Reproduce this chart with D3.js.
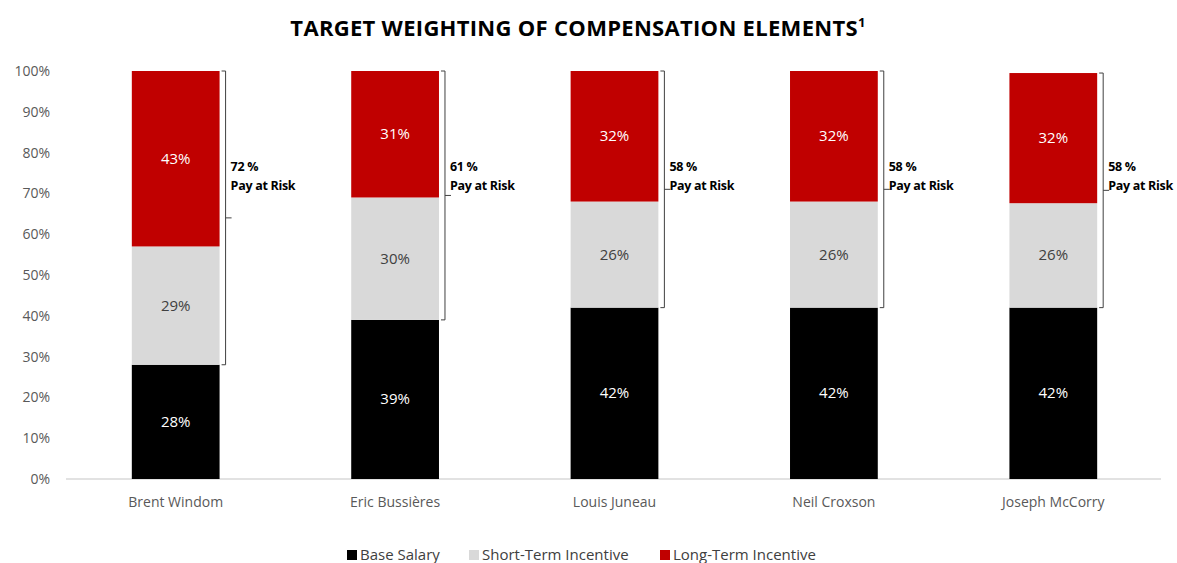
<!DOCTYPE html>
<html>
<head>
<meta charset="utf-8">
<script src="https://cdn.jsdelivr.net/npm/d3@7"></script>
<style>
  body { margin: 0; background: #fff; }
  text { font-family: "Open Sans", "Noto Sans", sans-serif; }
</style>
</head>
<body>
<script>
// Data
const executives = ["Brent Windom", "Eric Bussières", "Louis Juneau", "Neil Croxson", "Joseph McCorry"];
const baseSalary = [28, 39, 42, 42, 42];
const shortTerm = [29, 30, 26, 26, 25.6];
const longTerm = [43, 31, 32, 32, 31.9];
const seriesNames = ["Base Salary", "Short-Term Incentive", "Long-Term Incentive"];
const yTicks = [0, 10, 20, 30, 40, 50, 60, 70, 80, 90, 100];

const colors = ["#000000", "#d9d9d9", "#c00000"];
const labelColors = ["#ffffff", "#404040", "#ffffff"];

const W = 1177, H = 563;
const margin = {top: 71, right: 14, bottom: 84, left: 66};
const height = H - margin.top - margin.bottom;

const svg = d3.select("body").append("svg")
    .attr("width", W)
    .attr("height", H);

// Title
const title = svg.append("text")
    .attr("x", 578)
    .attr("y", 36)
    .attr("text-anchor", "middle")
    .style("font-size", "22px")
    .style("font-weight", "bold")
    .style("letter-spacing", "0.3px")
    .attr("fill", "#000");
title.append("tspan").text("TARGET WEIGHTING OF COMPENSATION ELEMENTS");
title.append("tspan").attr("dy", -9).style("font-size", "13px").text("1");

const rows = executives.map((name, i) => ({
  name: name,
  values: [baseSalary[i], shortTerm[i], longTerm[i]]
}));

const x = d3.scaleBand()
    .domain(executives)
    .range([margin.left, W - margin.right])
    .padding(0);
const barW = x.bandwidth() * 0.4;

const y = d3.scaleLinear()
    .domain([0, 100])
    .range([margin.top + height, margin.top]);

// Y axis labels
const yAxis = svg.append("g")
    .attr("transform", `translate(${margin.left},0)`)
    .call(d3.axisLeft(y).tickValues(yTicks).tickFormat(d => d + "%").tickSize(0).tickPadding(16));
yAxis.select(".domain").remove();
yAxis.selectAll("text")
    .style("font-size", "14px")
    .attr("fill", "#595959");

// Baseline
svg.append("line")
    .attr("x1", margin.left)
    .attr("x2", W - margin.right - 2)
    .attr("y1", y(0))
    .attr("y2", y(0))
    .attr("stroke", "#d9d9d9")
    .attr("stroke-width", 1.5);

// Stacked bars
const stack = rows.map(r => {
  let acc = 0;
  return r.values.map((v, k) => {
    const seg = {name: r.name, k: k, y0: acc, y1: acc + v, v: v};
    acc += v;
    return seg;
  });
});

const groups = svg.selectAll(".exec")
  .data(stack)
  .enter()
  .append("g")
    .attr("class", "exec");

groups.selectAll("rect")
  .data(d => d)
  .enter()
  .append("rect")
    .attr("x", d => x(d.name) + (x.bandwidth() - barW) / 2)
    .attr("width", barW)
    .attr("y", d => y(d.y1))
    .attr("height", d => y(d.y0) - y(d.y1))
    .attr("fill", d => colors[d.k]);

groups.selectAll("text.seg")
  .data(d => d)
  .enter()
  .append("text")
    .attr("class", "seg")
    .attr("x", d => x(d.name) + x.bandwidth() / 2)
    .attr("y", d => y((d.y0 + d.y1) / 2) + 5)
    .attr("text-anchor", "middle")
    .style("font-size", "15px")
    .attr("fill", d => labelColors[d.k])
    .text(d => Math.round(d.v) + "%");

// Pay at risk brackets
rows.forEach((r, i) => {
  const bx = x(r.name) + (x.bandwidth() + barW) / 2 + 6;
  const top = y(r.values[0] + r.values[1] + r.values[2]);
  const bot = y(r.values[0]);
  const mid = (top + bot) / 2;
  const g = svg.append("g").attr("class", "bracket");
  g.append("path")
    .attr("d", `M${bx - 4},${top} H${bx} V${bot} H${bx - 4} M${bx},${mid} H${bx + 6}`)
    .attr("fill", "none")
    .attr("stroke", "#404040")
    .attr("stroke-width", 1);
  const risk = Math.round(r.values[1] + r.values[2]);
  const tx = bx + 5;
  const t = g.append("text")
    .attr("x", tx)
    .attr("y", y(75))
    .style("font-size", "12.5px")
    .style("font-weight", "bold")
    .style("letter-spacing", "-0.3px")
    .attr("fill", "#000");
  t.append("tspan").attr("x", tx).attr("dy", -2).text(risk + " %");
  t.append("tspan").attr("x", tx).attr("dy", 19).text("Pay at Risk");
});

// Category labels
svg.selectAll(".cat")
  .data(executives)
  .enter()
  .append("text")
    .attr("class", "cat")
    .attr("x", d => x(d) + x.bandwidth() / 2)
    .attr("y", y(0) + 28)
    .attr("text-anchor", "middle")
    .style("font-size", "14px")
    .attr("fill", "#595959")
    .text(d => d);

// Legend
const legendX = [347, 469, 660];
const legend = svg.selectAll(".legend")
  .data(seriesNames)
  .enter()
  .append("g")
    .attr("class", "legend")
    .attr("transform", (d, i) => `translate(${legendX[i]},560)`);
legend.append("rect")
    .attr("x", 0)
    .attr("y", -10)
    .attr("width", 10)
    .attr("height", 10)
    .attr("fill", (d, i) => colors[i]);
legend.append("text")
    .attr("x", 13)
    .attr("y", 0)
    .style("font-size", "15px")
    .attr("fill", "#404040")
    .text(d => d);
</script>
</body>
</html>
